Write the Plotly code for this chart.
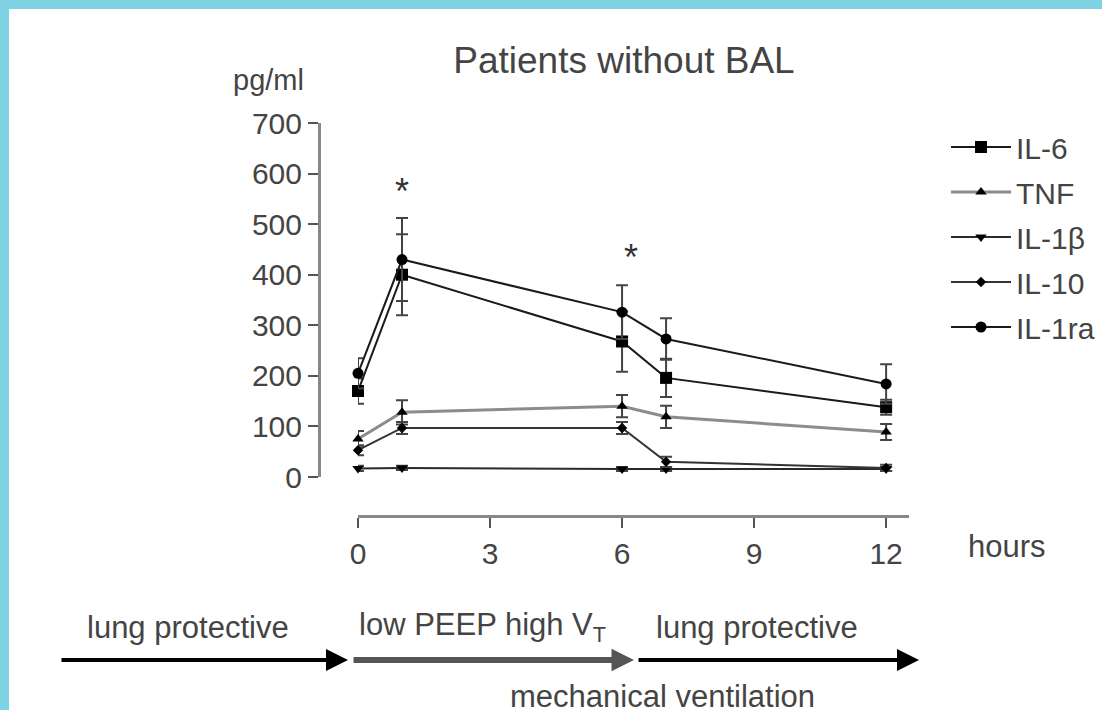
import plotly.graph_objects as go

# ---------------- data ----------------
hours = [0, 1, 6, 7, 12]
il6 = [170, 400, 268, 196, 138]
il6_err = [25, 80, 60, 38, 15]
tnf = [75, 128, 140, 119, 89]
tnf_err = [16, 24, 22, 22, 16]
il1b = [17, 18, 16, 16, 16]
il1b_err = [5, 4, 4, 4, 4]
il10 = [53, 97, 97, 30, 18]
il10_err = [10, 12, 12, 10, 6]
il1ra = [205, 430, 326, 273, 184]
il1ra_err = [30, 82, 53, 41, 39]

sig_hours = [1, 6.2]
sig_levels = [580, 450]

x_ticks = [0, 3, 6, 9, 12]
y_ticks = [0, 100, 200, 300, 400, 500, 600, 700]

FONT = "Liberation Sans, Arial, sans-serif"
TXT = "#444444"

# page geometry (px)
W, H = 1102, 710
PL, PR, PT, PB = 319, 909, 123, 516   # paper box
pw, ph = PR - PL, PB - PT


def px_x(px):
    return (px - PL) / pw


def px_y(py):
    return (PB - py) / ph


series = [
    ("IL-6", il6, il6_err, "square", 12, "#1a1a1a", 2),
    ("TNF", tnf, tnf_err, "triangle-up", 10, "#8c8c8c", 3),
    ("IL-1β", il1b, il1b_err, "triangle-down", 10, "#2a2a2a", 2),
    ("IL-10", il10, il10_err, "diamond", 8, "#333333", 2),
    ("IL-1ra", il1ra, il1ra_err, "circle", 11, "#1a1a1a", 2),
]

fig = go.Figure()
for name, vals, errs, sym, size, col, lw in series:
    fig.add_trace(go.Scatter(
        x=hours, y=vals, name=name, legendgroup=name,
        mode="lines+markers",
        line=dict(color=col, width=lw),
        marker=dict(symbol=sym, size=size, color="black"),
        error_y=dict(type="data", array=errs, visible=True,
                     color="#444444", thickness=2, width=6),
        cliponaxis=False,
    ))

annotations = []
for sx, sy in zip(sig_hours, sig_levels):
    annotations.append(dict(x=sx, y=sy, xref="x", yref="y", text="*",
                            showarrow=False, yshift=-8,
                            xanchor="center", yanchor="middle",
                            font=dict(family=FONT, size=36, color="#333333")))


def label(text, cx, cy, size=31):
    return dict(x=px_x(cx), y=px_y(cy), xref="paper", yref="paper", text=text,
                showarrow=False, xanchor="center", yanchor="middle",
                font=dict(family=FONT, size=size, color=TXT))


annotations += [
    label("pg/ml", 268, 80, 29),
    label("hours", 1007, 546, 31),
    label("lung protective", 188, 627),
    label("low PEEP high V<sub>T</sub>", 482, 627),
    label("lung protective", 757, 627),
    label("mechanical ventilation", 662, 696),
]

# phase arrows
for tip, start, col, wid, asz in [(348, 60, "black", 4, 1.1),
                                  (634, 352, "#555555", 6, 0.75),
                                  (919, 637, "black", 4, 1.1)]:
    annotations.append(dict(x=px_x(tip), y=px_y(660), xref="paper", yref="paper",
                            ax=start - tip, ay=0, axref="pixel", ayref="pixel",
                            text="", showarrow=True, arrowhead=2, arrowsize=asz,
                            arrowwidth=wid, arrowcolor=col, standoff=0))

shapes = [
    dict(type="rect", xref="paper", yref="paper",
         x0=px_x(0), x1=px_x(W), y0=px_y(9), y1=px_y(0),
         fillcolor="#7dd2e4", line=dict(width=0), layer="below"),
    dict(type="rect", xref="paper", yref="paper",
         x0=px_x(0), x1=px_x(9), y0=px_y(H), y1=px_y(0),
         fillcolor="#7dd2e4", line=dict(width=0), layer="below"),
]

fig.update_layout(
    width=W, height=H,
    margin=dict(l=PL, r=W - PR, t=PT, b=H - PB, pad=0, autoexpand=False),
    paper_bgcolor="white", plot_bgcolor="white",
    title=dict(text="Patients without BAL", x=px_x(624), xref="paper", xanchor="center",
               y=1 - 60 / H, yref="container", yanchor="middle",
               font=dict(family=FONT, size=37, color=TXT)),
    xaxis=dict(domain=[px_x(358), 1], range=[0, 12.52], anchor="free", position=0,
               tickvals=x_ticks, ticks="outside", ticklen=10, tickwidth=2,
               tickcolor="#555555", showline=True, linecolor="#888888", linewidth=3,
               showgrid=False, zeroline=False,
               tickfont=dict(family=FONT, size=30, color=TXT)),
    yaxis=dict(domain=[px_y(477), 1], range=[0, 700], anchor="free", position=0,
               tickvals=y_ticks, ticks="outside", ticklen=10, tickwidth=2,
               tickcolor="#555555", showline=True, linecolor="#888888", linewidth=3,
               showgrid=False, zeroline=False,
               tickfont=dict(family=FONT, size=30, color=TXT)),
    legend=dict(x=px_x(946), y=px_y(121), xanchor="left", yanchor="top",
                font=dict(family=FONT, size=30, color=TXT), itemwidth=60,
                tracegroupgap=3, bgcolor="rgba(0,0,0,0)"),
    annotations=annotations,
    shapes=shapes,
)

fig.write_html("out.html", config={"displayModeBar": False},
               post_script="document.body.style.margin='0';")
